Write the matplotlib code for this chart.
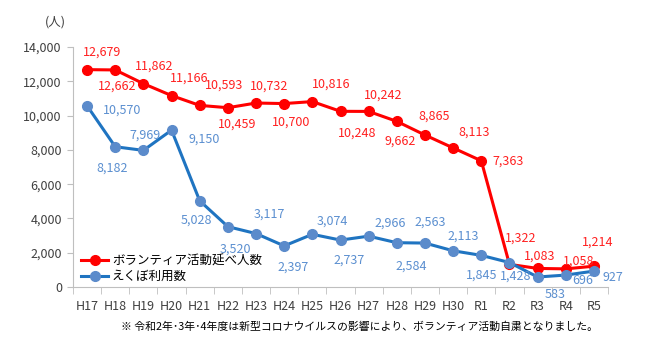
import matplotlib
matplotlib.use("Agg")
import matplotlib.pyplot as plt

plt.rcParams['font.family'] = ['Noto Sans CJK JP', 'DejaVu Sans']

years = ["H17", "H18", "H19", "H20", "H21", "H22", "H23", "H24", "H25", "H26",
         "H27", "H28", "H29", "H30", "R1", "R2", "R3", "R4", "R5"]
volunteer = [12679, 12662, 11862, 11166, 10593, 10459, 10732, 10700, 10816, 10248,
             10242, 9662, 8865, 8113, 7363, 1322, 1083, 1058, 1214]
ekubo = [10570, 8182, 7969, 9150, 5028, 3520, 3117, 2397, 3074, 2737,
         2966, 2584, 2563, 2113, 1845, 1428, 583, 696, 927]

# label offsets in pixels (dx right, dy down)
red_off = [(15, -18), (2, 16), (11, -18), (18, -17), (24, -20), (9, 16), (13, -17),
           (7, 19), (19, -17), (17, 22), (15, -16), (3, 20), (9, -19), (21, -16),
           (27, 0), (11, -26), (2, -12), (13, -8), (4, -24)]
blue_off = [(35, 4), (-3, 21), (2, -15), (33, 9), (-3, 19), (8, 22), (13, -19),
            (9, 21), (20, -13), (9, 20), (22, -13), (14, 23), (5, -21), (10, -15),
            (0, 20), (6, 14), (18, 17), (17, 5), (19, 6)]

RED = "#FF0000"
RED_TXT = "#FF2020"
BLUE_LINE = "#1F74C1"
BLUE_MK = "#5B8BCB"
BLUE_TXT = "#5B8FD0"

fig = plt.figure(figsize=(6.5, 3.6), dpi=100)
ax = fig.add_axes([73 / 650, 1 - 287 / 360, 535 / 650, 240 / 360])

x = list(range(len(years)))
ax.plot(x, volunteer, color=RED, lw=2.2, marker="o", ms=7, mfc=RED, mec=RED,
        label="ボランティア活動延べ人数", zorder=3)
ax.plot(x, ekubo, color=BLUE_LINE, lw=2.2, marker="o", ms=7, mfc=BLUE_MK, mec=BLUE_MK,
        label="えくぼ利用数", zorder=4)

for i, v in enumerate(volunteer):
    dx, dy = red_off[i]
    ax.annotate(f"{v:,}", (i, v), xytext=(dx, -dy), textcoords="offset pixels",
                ha="center", va="center", color=RED_TXT, fontsize=9, zorder=5)
for i, v in enumerate(ekubo):
    dx, dy = blue_off[i]
    ax.annotate(f"{v:,}", (i, v), xytext=(dx, -dy), textcoords="offset pixels",
                ha="center", va="center", color=BLUE_TXT, fontsize=9, zorder=5)

ax.set_xlim(-0.5, len(years) - 0.5)
ax.set_ylim(0, 14000)
ax.set_yticks(range(0, 14001, 2000))
ax.set_yticklabels([f"{t:,}" for t in range(0, 14001, 2000)], fontsize=9, color="#404040")
ax.set_xticks(x)
ax.set_xticklabels(years, fontsize=9, color="#404040")
ax.set_xticks([i - 0.5 for i in range(len(years) + 1)], minor=True)
ax.tick_params(axis="x", which="major", length=0, pad=9)
ax.tick_params(axis="x", which="minor", length=5, color="#BFBFBF", direction="out")
ax.tick_params(axis="y", length=4, color="#BFBFBF", direction="out", pad=4)

for s in ["top", "right"]:
    ax.spines[s].set_visible(False)
ax.spines["left"].set_color("#BFBFBF")
ax.spines["bottom"].set_color("#BFBFBF")

fig.text(55 / 650, 1 - 22 / 360, "(人)", fontsize=9, color="#404040",
         ha="center", va="center")

ax.legend(loc="lower left", bbox_to_anchor=(72 / 650, 1 - 292 / 360),
          bbox_transform=fig.transFigure, frameon=False, fontsize=9,
          handlelength=2.2, handletextpad=0.3, labelspacing=0.25, borderpad=0.2)

fig.text(598 / 650, 1 - 327 / 360,
         "※ 令和2年･3年･4年度は新型コロナウイルスの影響により、ボランティア活動自粛となりました。",
         fontsize=7.8, color="black", ha="right", va="center")

fig.savefig("out.png", dpi=100)
